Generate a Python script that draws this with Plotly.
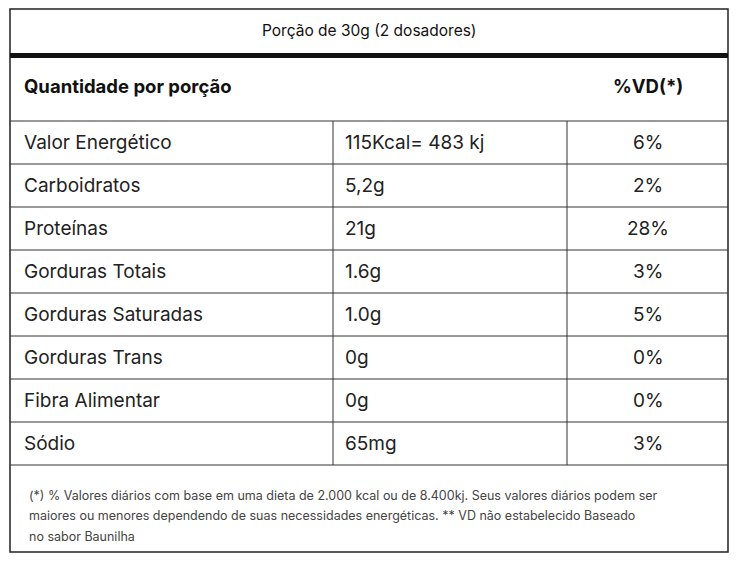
import plotly.graph_objects as go

title = "Porção de 30g (2 dosadores)"
head_left = "Quantidade por porção"
head_right = "%VD(*)"
nutrients = ["Valor Energético", "Carboidratos", "Proteínas", "Gorduras Totais",
             "Gorduras Saturadas", "Gorduras Trans", "Fibra Alimentar", "Sódio"]
amounts = ["115Kcal= 483 kj", "5,2g", "21g", "1.6g", "1.0g", "0g", "0g", "65mg"]
vd = ["6%", "2%", "28%", "3%", "5%", "0%", "0%", "3%"]
footnote = ["(*) % Valores diários com base em uma dieta de 2.000 kcal ou de 8.400kj. Seus valores diários podem ser",
            "maiores ou menores dependendo de suas necessidades energéticas. ** VD não estabelecido Baseado",
            "no sabor Baunilha"]

W, H = 744, 564
OFF = 8  # page body margin in the browser
L, R, T, B = 10, 728, 9, 552
c1, c2 = 333, 567
body_top, row_h = 121, 43
FONT = "Inter, Roboto, sans-serif"

fig = go.Figure()
shapes = []
ann = []

def line(x0, y0, x1, y1, w=1, c="#333"):
    shapes.append(dict(type="line", x0=x0, y0=y0, x1=x1, y1=y1, line=dict(color=c, width=w)))

def text(x, y, s, size=19, anchor="left", bold=False, color="#222"):
    if bold:
        s = "<b>" + s + "</b>"
    ann.append(dict(x=x, y=y, text=s, showarrow=False, xanchor=anchor, yanchor="middle",
                    font=dict(size=size, color=color, family=FONT)))

shapes.append(dict(type="rect", x0=L, y0=T, x1=R, y1=B, line=dict(color="#222", width=1.5)))
shapes.append(dict(type="rect", x0=L, y0=53, x1=R, y1=58, fillcolor="#111", line=dict(width=0)))
text((L + R) / 2, 30, title, size=15.5, anchor="center", color="#111")
text(22, 86, head_left, size=18.5, bold=True, color="#111")
text(648, 86, head_right, size=18.5, anchor="center", bold=True, color="#111")
line(L, body_top, R, body_top)

for i, (n, a, v) in enumerate(zip(nutrients, amounts, vd)):
    y0 = body_top + i * row_h
    yc = y0 + row_h / 2
    text(22, yc, n)
    text(343, yc, a)
    text(648, yc, v, anchor="center")
    line(L, y0 + row_h, R, y0 + row_h)
line(c1, body_top, c1, body_top + row_h * len(nutrients))
line(c2, body_top, c2, body_top + row_h * len(nutrients))

for j, s in enumerate(footnote):
    text(27, 495 + j * 20.5, s, size=12.5, color="#444")

fig.update_layout(width=W, height=H, margin=dict(l=0, r=0, t=0, b=0),
                  paper_bgcolor="white", plot_bgcolor="white",
                  xaxis=dict(range=[OFF, W + OFF], visible=False, fixedrange=True),
                  yaxis=dict(range=[H + OFF, OFF], visible=False, fixedrange=True),
                  shapes=shapes, annotations=ann, showlegend=False)
fig.write_html("out.html")
